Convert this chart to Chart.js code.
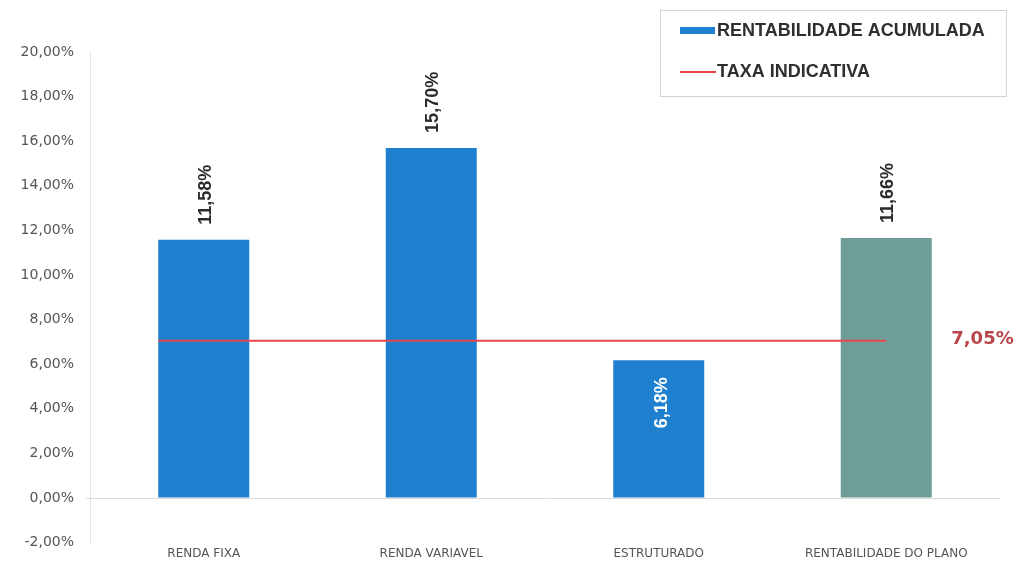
<!DOCTYPE html>
<html>
<head>
<meta charset="utf-8">
<script src="https://cdn.jsdelivr.net/npm/chart.js@4.4.1/dist/chart.umd.min.js"></script>
<style>
  html, body { margin: 0; padding: 0; background: #fff; }
  #wrap { width: 1021px; height: 563px; position: relative; }
</style>
</head>
<body>
<div id="wrap"><canvas id="barChart"></canvas></div>
<script>
// dados
var categorias = ["RENDA FIXA", "RENDA VARIAVEL", "ESTRUTURADO", "RENTABILIDADE DO PLANO"];
var rentabilidade = [11.58, 15.70, 6.18, 11.66];
var taxaIndicativa = 7.05;
// a linha vai da borda do 1o bar ate o centro do ultimo (posicao em indice de categoria)
var taxaInicio = -0.2;
var taxaFim = 3;
var yTicks = [-2, 0, 2, 4, 6, 8, 10, 12, 14, 16, 18, 20];

var azul = "#1f80cf";
var cinza = "#6f9d98";
var vermelho = "#e8464f";

function pct(v) {
    return v.toFixed(2).replace(".", ",") + "%";
}

// rotulos das barras (texto vertical)
var rotulosPlugin = {
    id: "rotulos",
    afterDatasetsDraw: function (chart) {
        var ctx = chart.ctx;
        var meta = chart.getDatasetMeta(0);
        ctx.save();
        ctx.font = "bold 18px 'Liberation Sans', Arial, sans-serif";
        ctx.textBaseline = "middle";
        meta.data.forEach(function (bar, i) {
            var v = rentabilidade[i];
            ctx.save();
            if (v < taxaIndicativa) {
                ctx.translate(bar.x + 3, bar.y + 17);
                ctx.rotate(-Math.PI / 2);
                ctx.textAlign = "right";
                ctx.fillStyle = "#ffffff";
            } else {
                ctx.translate(bar.x + 2, bar.y - 15);
                ctx.rotate(-Math.PI / 2);
                ctx.textAlign = "left";
                ctx.fillStyle = "#2b2b2b";
            }
            ctx.fillText(pct(v), 0, 0);
            ctx.restore();
        });

        // valor da taxa ao lado da linha
        var line = chart.getDatasetMeta(1).data;
        var last = line[line.length - 1];
        ctx.font = "bold 18px 'DejaVu Sans', sans-serif";
        ctx.fillStyle = "#b8454b";
        ctx.textAlign = "left";
        ctx.fillText(pct(taxaIndicativa), last.x + 65, last.y - 1);
        ctx.restore();
    }
};

// legenda em caixa no canto superior direito
var legendaPlugin = {
    id: "legenda",
    afterDraw: function (chart) {
        var ctx = chart.ctx;
        var x = 660, y = 10, w = 346, h = 86;
        ctx.save();
        ctx.fillStyle = "#ffffff";
        ctx.fillRect(x, y, w, h);
        ctx.strokeStyle = "#d4d4d4";
        ctx.lineWidth = 1;
        ctx.strokeRect(x + 0.5, y + 0.5, w, h);
        ctx.fillStyle = azul;
        ctx.fillRect(x + 20, y + 17, 35, 7);
        ctx.strokeStyle = vermelho;
        ctx.lineWidth = 2;
        ctx.beginPath();
        ctx.moveTo(x + 20, y + 62);
        ctx.lineTo(x + 56, y + 62);
        ctx.stroke();
        ctx.font = "bold 18px 'Liberation Sans', Arial, sans-serif";
        ctx.fillStyle = "#2e2e2e";
        ctx.textBaseline = "middle";
        ctx.fillText(chart.data.datasets[0].label, x + 57, y + 21);
        ctx.fillText(chart.data.datasets[1].label, x + 57, y + 62);
        ctx.restore();
    }
};

var ctx = document.getElementById("barChart").getContext("2d");

var myChart = new Chart(ctx, {
    type: "bar",
    data: {
        labels: categorias,
        datasets: [
            {
                label: "RENTABILIDADE ACUMULADA",
                data: rentabilidade,
                backgroundColor: rentabilidade.map(function (v, i) {
                    return i === rentabilidade.length - 1 ? cinza : azul;
                }),
                grouped: false,
                barPercentage: 0.8,
                categoryPercentage: 0.5,
                order: 2,
            },
            {
                type: "line",
                label: "TAXA INDICATIVA",
                data: [
                    { x: taxaInicio, y: taxaIndicativa },
                    { x: taxaFim, y: taxaIndicativa },
                ],
                xAxisID: "x2",
                borderColor: vermelho,
                borderWidth: 2,
                pointRadius: 0,
                fill: false,
                order: 1,
            },
        ],
    },
    options: {
        responsive: true,
        maintainAspectRatio: false,
        animation: false,
        layout: {
            padding: { top: 52, right: 21, left: 0, bottom: 0 },
        },
        plugins: {
            legend: { display: false },
            tooltip: { enabled: false },
        },
        scales: {
            x: {
                grid: { display: false, drawTicks: false },
                border: { display: false },
                ticks: {
                    color: "#555555",
                    padding: 4,
                    maxRotation: 0,
                    autoSkip: false,
                    font: { size: 12, family: "'DejaVu Sans', sans-serif" },
                },
                afterFit: function (scale) {
                    scale.height = 16;
                },
            },
            x2: {
                type: "linear",
                display: false,
                offset: false,
                min: -0.5,
                max: 3.5,
            },
            y: {
                min: -2,
                max: 20,
                afterBuildTicks: function (scale) {
                    scale.ticks = yTicks.map(function (v) { return { value: v }; });
                },
                grid: {
                    drawTicks: true,
                    tickLength: 4,
                    color: function (c) {
                        return c.tick && c.tick.value === 0 ? "#dcdcdc" : "rgba(0,0,0,0)";
                    },
                },
                border: { display: true, color: "#e2e2e2" },
                ticks: {
                    color: "#555555",
                    padding: 12,
                    font: { size: 14, family: "'DejaVu Sans', sans-serif" },
                    callback: function (value) {
                        return pct(value);
                    },
                },
                afterFit: function (scale) {
                    scale.width = 90;
                },
            },
        },
    },
    plugins: [rotulosPlugin, legendaPlugin],
});
</script>
</body>
</html>
